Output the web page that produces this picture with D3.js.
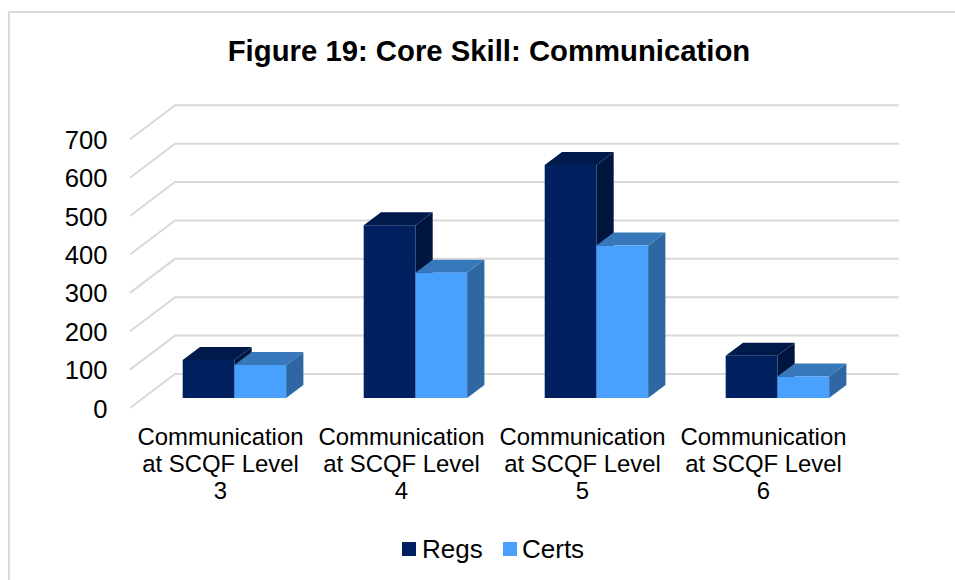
<!DOCTYPE html>
<html><head><meta charset="utf-8">
<script src="https://cdn.jsdelivr.net/npm/d3@7"></script>
<style>html,body{margin:0;background:#fff}svg{display:block}text{font-family:"Liberation Sans",Arial,sans-serif;fill:#000}</style>
</head><body><svg id="c" width="955" height="580"></svg>
<script>
const categories=[["Communication","at SCQF Level","3"],["Communication","at SCQF Level","4"],["Communication","at SCQF Level","5"],["Communication","at SCQF Level","6"]];
const regs=[99,450,607,110];
const certs=[86,326,397,56];
const seriesNames=["Regs","Certs"];
const ticks=[0,100,200,300,400,500,600,700];
const title="Figure 19: Core Skill: Communication";

const svg=d3.select("#c");
svg.append("path").attr("fill","none").attr("stroke","#d9d9d9").attr("stroke-width",2.2).attr("d","M9,580V12H955");
svg.append("text").attr("x",489).attr("y",61).attr("text-anchor","middle").attr("font-weight","bold").attr("font-size",29.3).text(title);

const x=d3.scaleBand().domain(d3.range(4)).range([130,854]);
const y=d3.scaleLinear().domain([0,700]).range([408,139.3]);
const wall={dx:45,dy:-34}, off={dy:-10}, dep={dx:17.3,dy:-13};
const barW=51.7, lead=52.7;

const right=854+wall.dx;
ticks.forEach(t=>{
  svg.append("path").attr("fill","none").attr("stroke","#d9d9d9").attr("stroke-width",2)
    .attr("d",d3.line()([[x.range()[0],y(t)],[x.range()[0]+wall.dx,y(t)+wall.dy],[right,y(t)+wall.dy]]));
  svg.append("text").attr("x",107.5).attr("y",y(t)+9.5).attr("text-anchor","end").attr("font-size",25.6).text(t);
});

const colors=[{front:"#00205f",top:"#001a4c",side:"#00163f"},{front:"#4aa1fd",top:"#3778ba",side:"#2e67a1"}];
const series=[regs,certs];
categories.forEach((c,i)=>{
  series.forEach((vals,s)=>{
    const col=colors[s];
    const x0=x(i)+lead+s*barW, x1=x0+barW;
    const yb=y(0)+off.dy, yt=y(vals[i])+off.dy;
    const g=svg.append("g");
    const poly=(pts,f)=>g.append("polygon").attr("points",pts.map(p=>p.join(",")).join(" ")).attr("fill",f);
    poly([[x1,yb],[x1+dep.dx,yb+dep.dy],[x1+dep.dx,yt+dep.dy],[x1,yt]],col.side);
    poly([[x0,yt],[x0+dep.dx,yt+dep.dy],[x1+dep.dx,yt+dep.dy],[x1,yt]],col.top);
    poly([[x0,yb],[x1,yb],[x1,yt],[x0,yt]],col.front);
  });
  const t=svg.append("text").attr("text-anchor","middle").attr("font-size",23.9);
  c.forEach((line,k)=>t.append("tspan").attr("x",x(i)+x.bandwidth()/2).attr("y",445+k*27).text(line));
});

const leg=[{x:402,tx:422},{x:503,tx:522}];
seriesNames.forEach((n,i)=>{
  svg.append("rect").attr("x",leg[i].x).attr("y",542).attr("width",14).attr("height",14).attr("fill",colors[i].front);
  svg.append("text").attr("x",leg[i].tx).attr("y",557.5).attr("font-size",26).text(n);
});
</script></body></html>
